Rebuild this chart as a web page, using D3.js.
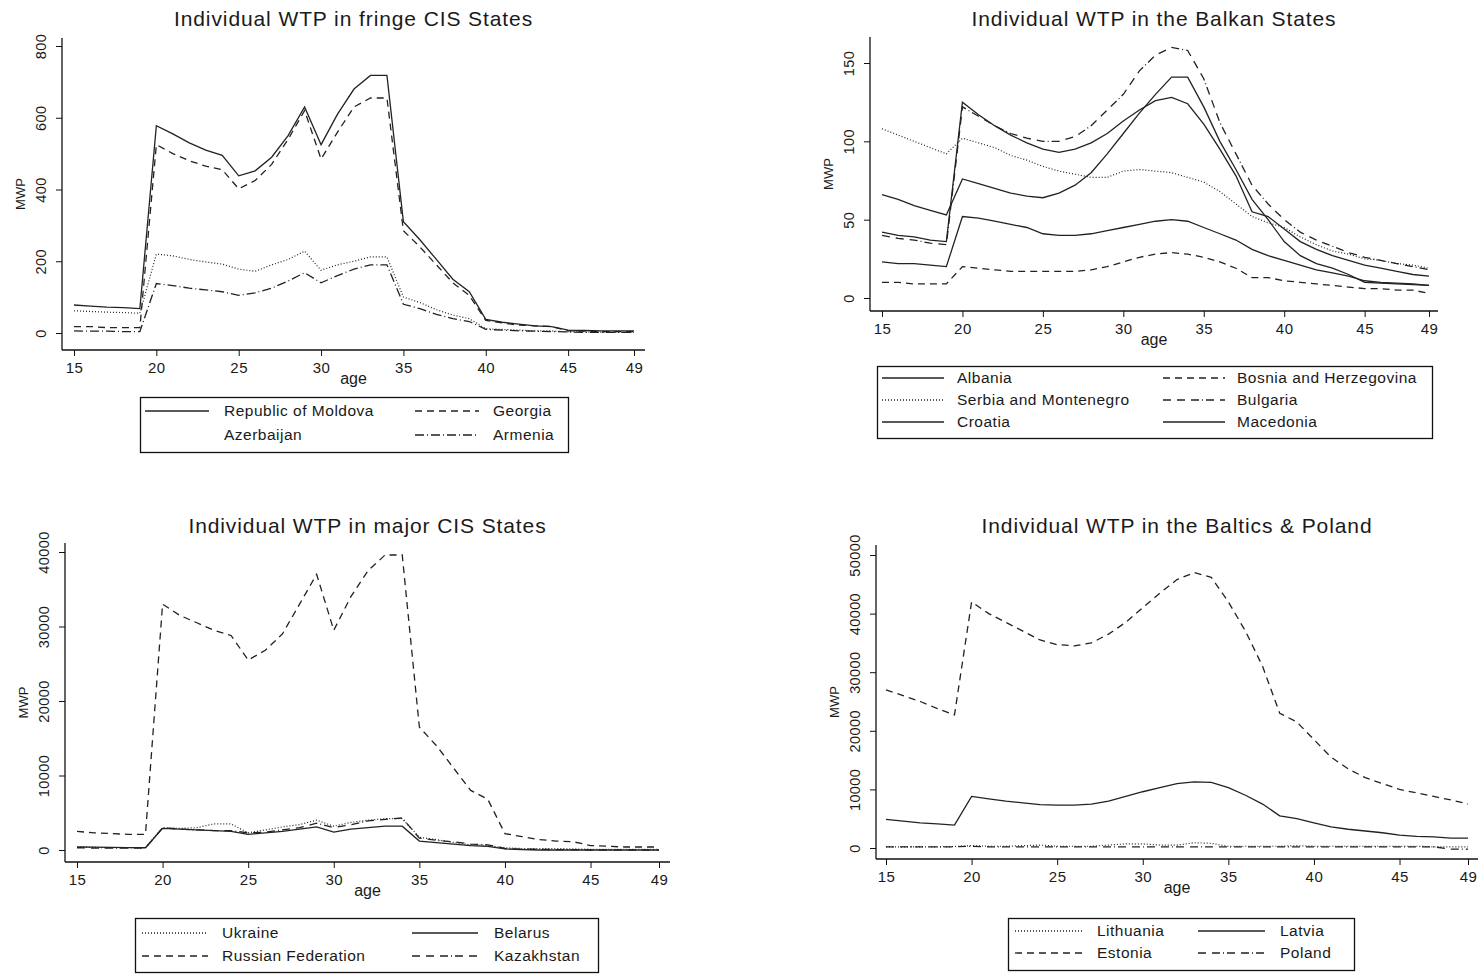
<!DOCTYPE html>
<html lang="en">
<head>
  <meta charset="UTF-8" />
  <title>Individual WTP by age</title>
  <style>
    body { margin: 0; background: #fff; }
    svg { display: block; }
    text { font-family: "Liberation Sans", Arial, sans-serif; fill: #1a1a1a; }
  </style>
  <script src="https://cdn.jsdelivr.net/npm/d3@7"></script>
</head>
<body>
  <svg id="chart" width="1478" height="975"></svg>

  <script>
    // ages on the x axis
    const ages = [15,16,17,18,19,20,21,22,23,24,25,26,27,28,29,30,31,32,33,34,35,36,37,38,39,40,41,42,43,44,45,46,47,48,49];
    const xTicks = [15, 20, 25, 30, 35, 40, 45, 49];

    // fringe CIS States
    const moldova    = [78,75,72,71,68,578,555,530,510,495,438,452,490,550,630,525,610,680,718,718,310,260,205,150,115,38,30,25,20,18,8,7,6,6,6];
    const georgia    = [18,18,15,15,15,525,500,480,465,455,402,425,470,540,620,485,560,630,655,655,285,240,190,140,105,35,28,22,20,18,6,5,4,4,4];
    const azerbaijan = [62,60,58,57,55,220,215,205,198,192,178,172,190,205,228,175,190,200,212,212,100,85,65,50,40,12,10,8,6,6,3,3,2,2,2];
    const armenia    = [6,5,5,4,4,138,132,125,120,115,105,112,125,145,168,140,160,178,190,190,80,68,52,40,32,10,8,6,5,4,3,2,2,2,2];
    const fringeTicks = [0, 200, 400, 600, 800];

    // Balkan States
    const albania   = [66,63,59,56,53,76,73,70,67,65,64,67,72,80,92,105,118,130,141,141,122,100,82,63,50,36,27,22,19,15,10,9.5,9,8.5,8];
    const bosnia    = [10,10,9,9,9,20,19,18,17,17,17,17,17,18,20,23,26,28,29,28,26,23,19,13,13,11,10,9,8,7,6,6,5,5,3];
    const serbia    = [108,104,100,96,92,102,99,96,91,88,84,81,79,77,77,81,82,81,80,77,74,68,60,52,48,45,39,34,30,28,25,24,22,21,19];
    const bulgaria  = [40,38,37,35,34,122,116,110,105,102,100,100,103,110,120,130,145,155,160,158,140,112,92,72,60,50,42,37,33,29,26,24,22,20,18];
    const croatia   = [42,40,39,37,36,125,117,110,104,99,95,93,95,99,105,113,120,126,128,124,111,95,78,55,52,44,36,31,27,24,21,19,17,15,14];
    const macedonia = [23,22,22,21,20,52,51,49,47,45,41,40,40,41,43,45,47,49,50,49,45,41,37,31,27,24,21,18,16,14,11,10,9.5,9,8];
    const balkanTicks = [0, 50, 100, 150];

    // major CIS States
    const ukraine    = [400,350,300,300,300,3000,2900,3000,3500,3500,2300,2700,3100,3400,4000,3200,3700,4000,4200,4200,1700,1400,1000,700,600,300,200,200,200,150,100,100,100,100,100];
    const belarus    = [400,380,350,330,300,2900,2800,2700,2600,2500,2100,2300,2500,2800,3100,2400,2800,3000,3200,3200,1200,1000,800,600,500,150,50,0,0,0,0,0,0,0,0];
    const russia     = [2500,2300,2200,2100,2100,33000,31500,30500,29500,28800,25500,26800,29000,33000,37000,29500,34000,37500,39600,39600,16500,14000,11000,8000,6800,2200,1800,1400,1200,1100,600,500,400,400,400];
    const kazakhstan = [300,250,250,250,250,3000,2800,2700,2600,2600,2300,2400,2700,3000,3600,3000,3400,3900,4100,4300,1600,1300,1100,800,700,200,100,100,50,50,0,0,0,0,0];
    const majorTicks = [0, 10000, 20000, 30000, 40000];

    // Baltics & Poland
    const lithuania = [200,200,200,200,250,400,300,300,400,500,300,300,300,500,700,700,500,500,900,800,300,300,300,300,400,300,300,300,300,300,300,300,200,200,200];
    const latvia    = [4900,4600,4300,4100,3900,8800,8400,8000,7700,7400,7300,7300,7500,8000,8800,9600,10300,11000,11300,11200,10300,9000,7500,5500,5000,4300,3600,3200,2900,2600,2200,2000,1900,1700,1700];
    const estonia   = [27000,26000,25000,23800,22700,42000,40000,38500,37000,35500,34700,34500,35000,36500,38500,41000,43500,45800,47000,46200,42000,37000,31000,23000,21500,18500,15500,13500,12000,11000,10000,9400,8800,8200,7500];
    const poland    = [200,200,200,200,200,300,200,200,200,200,200,200,200,200,200,200,200,200,200,200,200,200,200,200,200,200,200,200,200,200,200,200,200,-200,-200];
    const balticTicks = [0, 10000, 20000, 30000, 40000, 50000];

    // line patterns (Stata-like)
    const dash = {
      solid: null,
      dash: '7,5',
      dot: '1,2',
      longdashdot: '9,3,1,3',
      dashdashdot: '8,6,8,6,8,3,1,3',
      dashdotdash: '8,6,8,3,1,3'
    };

    const svg = d3.select('#chart');

    function drawPanel(p) {
      const g = svg.append('g');
      const x = d3.scaleLinear().domain([15, 49]).range([p.x15, p.x49]);
      const y = d3.scaleLinear().domain([0, p.yTop]).range([p.y0, p.yTopPx]);
      const mid = (p.axisX + p.axisRight) / 2;

      g.append('text').attr('x', mid).attr('y', p.titleY)
        .attr('text-anchor', 'middle').style('font-size', '21px').style('letter-spacing', '0.9px')
        .text(p.title);

      // axis lines
      g.append('line').attr('x1', p.axisX).attr('x2', p.axisX)
        .attr('y1', p.axisTop).attr('y2', p.axisBottom).attr('stroke', '#111').attr('stroke-width', 1.3);
      g.append('line').attr('x1', p.axisX).attr('x2', p.axisRight)
        .attr('y1', p.axisBottom).attr('y2', p.axisBottom).attr('stroke', '#111').attr('stroke-width', 1.3);

      const xAxis = g.append('g').attr('transform', `translate(0,${p.axisBottom})`)
        .call(d3.axisBottom(x).tickValues(xTicks).tickSize(6).tickSizeOuter(0).tickFormat(d3.format('d')));
      xAxis.select('.domain').remove();
      xAxis.selectAll('line').attr('stroke', '#111');
      xAxis.selectAll('text').style('font-size', '15px').style('letter-spacing', '0.5px')
        .attr('dy', '0.9em').attr('fill', '#1a1a1a');

      const yAxis = g.append('g').attr('transform', `translate(${p.axisX},0)`)
        .call(d3.axisLeft(y).tickValues(p.yTicks).tickSize(6).tickSizeOuter(0).tickFormat(d3.format('d')));
      yAxis.select('.domain').remove();
      yAxis.selectAll('line').attr('stroke', '#111');
      yAxis.selectAll('text').remove();
      yAxis.selectAll('.tick').append('text')
        .attr('transform', 'translate(-16,0) rotate(-90)')
        .attr('text-anchor', 'middle').attr('dy', '0')
        .style('font-size', '14.5px').style('letter-spacing', '0.4px').attr('fill', '#1a1a1a')
        .text(d => d);

      g.append('text').attr('x', mid).attr('y', p.axisBottom + 34)
        .attr('text-anchor', 'middle').style('font-size', '16px').text('age');
      g.append('text')
        .attr('transform', `translate(${p.axisX - 37},${(p.axisTop + p.axisBottom) / 2}) rotate(-90)`)
        .attr('text-anchor', 'middle').style('font-size', '13px').text('MWP');

      const line = d3.line().x((d, i) => x(ages[i])).y(d => y(d));
      p.series.forEach(s => {
        g.append('path').datum(s.values)
          .attr('d', line).attr('fill', 'none')
          .attr('stroke', '#222').attr('stroke-width', s.style === 'dot' ? 1.2 : 1.3)
          .attr('stroke-dasharray', dash[s.style]);
      });

      // legend
      const L = p.legend;
      g.append('rect').attr('x', L.x + 0.5).attr('y', L.y + 0.5).attr('width', L.w).attr('height', L.h)
        .attr('fill', 'none').attr('stroke', '#111').attr('stroke-width', 1.3);
      p.series.forEach((s, i) => {
        const col = i % 2, row = Math.floor(i / 2);
        const sx = L.x + (col === 0 ? L.s1 : L.s2);
        const tx = L.x + (col === 0 ? L.t1 : L.t2);
        const ry = L.y + L.firstRow + row * L.rowH;
        if (s.showSample !== false) {
          g.append('line').attr('x1', sx).attr('x2', sx + L.sampleW)
            .attr('y1', ry).attr('y2', ry)
            .attr('stroke', '#222').attr('stroke-width', 1.3)
            .attr('stroke-dasharray', dash[s.style]);
        }
        g.append('text').attr('x', tx).attr('y', ry + 5)
          .style('font-size', '15.5px').style('letter-spacing', '0.5px').text(s.name);
      });
    }

    const fringeSeries = [
      { name: 'Republic of Moldova', values: moldova, style: 'solid' },
      { name: 'Georgia', values: georgia, style: 'dash' },
      { name: 'Azerbaijan', values: azerbaijan, style: 'dot', showSample: false },
      { name: 'Armenia', values: armenia, style: 'longdashdot' }
    ];
    const balkanSeries = [
      { name: 'Albania', values: albania, style: 'solid' },
      { name: 'Bosnia and Herzegovina', values: bosnia, style: 'dash' },
      { name: 'Serbia and Montenegro', values: serbia, style: 'dot' },
      { name: 'Bulgaria', values: bulgaria, style: 'dashdashdot' },
      { name: 'Croatia', values: croatia, style: 'solid' },
      { name: 'Macedonia', values: macedonia, style: 'solid' }
    ];
    const majorSeries = [
      { name: 'Ukraine', values: ukraine, style: 'dot' },
      { name: 'Belarus', values: belarus, style: 'solid' },
      { name: 'Russian Federation', values: russia, style: 'dash' },
      { name: 'Kazakhstan', values: kazakhstan, style: 'dashdashdot' }
    ];
    const balticSeries = [
      { name: 'Lithuania', values: lithuania, style: 'dot' },
      { name: 'Latvia', values: latvia, style: 'solid' },
      { name: 'Estonia', values: estonia, style: 'dash' },
      { name: 'Poland', values: poland, style: 'dashdotdash' }
    ];

    drawPanel({
      title: 'Individual WTP in fringe CIS States', titleY: 26,
      x15: 74, x49: 634, y0: 333, yTop: 800, yTopPx: 46, yTicks: fringeTicks,
      axisX: 62, axisRight: 645, axisTop: 38, axisBottom: 350,
      series: fringeSeries,
      legend: { x: 140, y: 397, w: 428, h: 55, firstRow: 14, rowH: 24, s1: 5, t1: 84, s2: 275, t2: 353, sampleW: 64 }
    });
    drawPanel({
      title: 'Individual WTP in the Balkan States', titleY: 26,
      x15: 882, x49: 1429, y0: 298, yTop: 150, yTopPx: 63, yTicks: balkanTicks,
      axisX: 870, axisRight: 1438, axisTop: 37, axisBottom: 311,
      series: balkanSeries,
      legend: { x: 877, y: 366, w: 555, h: 72, firstRow: 12, rowH: 22, s1: 5, t1: 80, s2: 286, t2: 360, sampleW: 62 }
    });
    drawPanel({
      title: 'Individual WTP in major CIS States', titleY: 533,
      x15: 77, x49: 659, y0: 850, yTop: 40000, yTopPx: 552, yTicks: majorTicks,
      axisX: 65, axisRight: 670, axisTop: 543, axisBottom: 862,
      series: majorSeries,
      legend: { x: 135, y: 918, w: 463, h: 54, firstRow: 15, rowH: 23, s1: 7, t1: 87, s2: 277, t2: 359, sampleW: 66 }
    });
    drawPanel({
      title: 'Individual WTP in the Baltics & Poland', titleY: 533,
      x15: 886, x49: 1468, y0: 848, yTop: 50000, yTopPx: 555, yTicks: balticTicks,
      axisX: 876, axisRight: 1478, axisTop: 545, axisBottom: 859,
      series: balticSeries,
      legend: { x: 1008, y: 918, w: 346, h: 52, firstRow: 13, rowH: 22, s1: 7, t1: 89, s2: 190, t2: 272, sampleW: 67 }
    });
  </script>
</body>
</html>
